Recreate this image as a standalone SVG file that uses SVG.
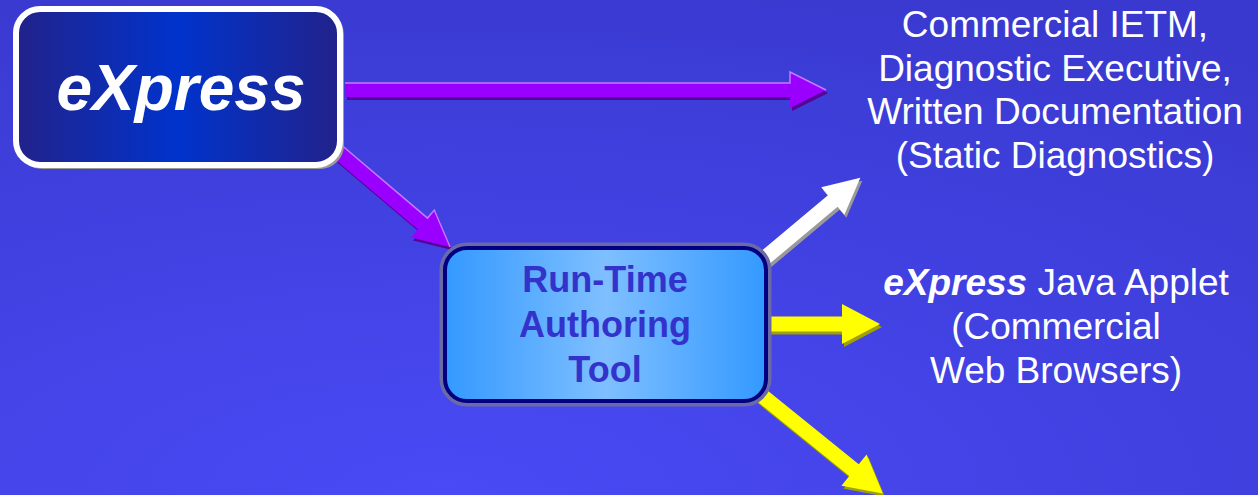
<svg xmlns="http://www.w3.org/2000/svg" width="1258" height="495" viewBox="0 0 1258 495">
<defs>
<radialGradient id="bg" cx="0.35" cy="1" r="1.1" fx="0.35" fy="1">
<stop offset="0" stop-color="#4a4af6"/>
<stop offset="1" stop-color="#3939cf"/>
</radialGradient>
<linearGradient id="gExp" x1="0" y1="0" x2="1" y2="0">
<stop offset="0" stop-color="#22228a"/>
<stop offset="0.5" stop-color="#0033cc"/>
<stop offset="1" stop-color="#22228a"/>
</linearGradient>
<linearGradient id="gRun" x1="0" y1="0" x2="1" y2="0">
<stop offset="0" stop-color="#3399ff"/>
<stop offset="0.5" stop-color="#7fbfff"/>
<stop offset="1" stop-color="#3399ff"/>
</linearGradient>
<style>
.t{font-family:"Liberation Sans",Arial,sans-serif;fill:#fff;font-size:37px;text-anchor:middle}
.rt{font-family:"Liberation Sans",Arial,sans-serif;fill:#3333cc;font-size:36px;font-weight:bold;text-anchor:middle}
</style>
</defs>
<rect width="1258" height="495" fill="url(#bg)"/>
<g id="connectors">
<g transform="translate(347,93)"><polygon points="0,-7 445,-7 445,-18 481,0 445,18 445,7 0,7" fill="#5a0096"/></g>
<g transform="translate(345,90)"><polygon points="0,-7 445,-7 445,-18 481,0 445,18 445,7 0,7" fill="#9900ff"/><polyline points="0,-7 445,-7 445,-18 481,0" fill="none" stroke="#cc77ff" stroke-width="1.5"/></g>
<g transform="translate(340,155) rotate(40.3)"><polygon points="0,-7.5 111,-7.5 111,-18 147,0 111,18 111,7.5 0,7.5" fill="#5a0096"/></g>
<g transform="translate(338,152) rotate(40.3)"><polygon points="0,-7.5 111,-7.5 111,-18 147,0 111,18 111,7.5 0,7.5" fill="#9900ff"/><polyline points="0,-7.5 111,-7.5 111,-18 147,0" fill="none" stroke="#cc77ff" stroke-width="1.5"/></g>
<g transform="translate(762,265) rotate(-40)"><polygon points="0,-7.5 95,-7.5 95,-18 131,0 95,18 95,7.5 0,7.5" fill="#9a9a9a"/></g>
<g transform="translate(760,262) rotate(-40)"><polygon points="0,-7.5 95,-7.5 95,-18 131,0 95,18 95,7.5 0,7.5" fill="#ffffff"/></g>
<g transform="translate(768,327)"><polygon points="0,-7.5 76,-7.5 76,-20 114,0 76,20 76,7.5 0,7.5" fill="#a0a000"/></g>
<g transform="translate(766,324)"><polygon points="0,-7.5 76,-7.5 76,-20 114,0 76,20 76,7.5 0,7.5" fill="#ffff00"/></g>
<g transform="translate(762,397) rotate(39)"><polygon points="0,-7.5 121,-7.5 121,-20 158,0 121,20 121,7.5 0,7.5" fill="#a0a000"/></g>
<g transform="translate(760,394) rotate(39)"><polygon points="0,-7.5 121,-7.5 121,-20 158,0 121,20 121,7.5 0,7.5" fill="#ffff00"/></g>
</g>
<g id="express">
<rect x="18" y="11" width="326" height="158" rx="24" fill="#9a9a9a"/>
<rect x="16" y="9" width="324" height="156" rx="24" fill="url(#gExp)" stroke="#fff" stroke-width="6"/>
<text x="181" y="110" style="font-family:'Liberation Sans',Arial,sans-serif;font-size:64px;font-weight:bold;font-style:italic;fill:#fff;text-anchor:middle">eXpress</text>
</g>
<g id="runtime">
<rect x="443" y="246" width="325" height="157" rx="24" fill="none" stroke="#6a6aa8" stroke-width="7"/>
<rect x="445" y="248" width="321" height="153" rx="22" fill="url(#gRun)" stroke="#000080" stroke-width="4"/>
<text class="rt" x="605" y="292">Run-Time</text>
<text class="rt" x="605" y="337">Authoring</text>
<text class="rt" x="605" y="382">Tool</text>
</g>
<g id="static">
<text class="t" x="1055" y="37">Commercial IETM,</text>
<text class="t" x="1055" y="81">Diagnostic Executive,</text>
<text class="t" x="1055" y="124">Written Documentation</text>
<text class="t" x="1055" y="168">(Static Diagnostics)</text>
</g>
<g id="applet">
<text class="t" x="1056" y="295"><tspan font-weight="bold" font-style="italic">eXpress</tspan> Java Applet</text>
<text class="t" x="1056" y="339">(Commercial</text>
<text class="t" x="1056" y="383">Web Browsers)</text>
</g>
</svg>
